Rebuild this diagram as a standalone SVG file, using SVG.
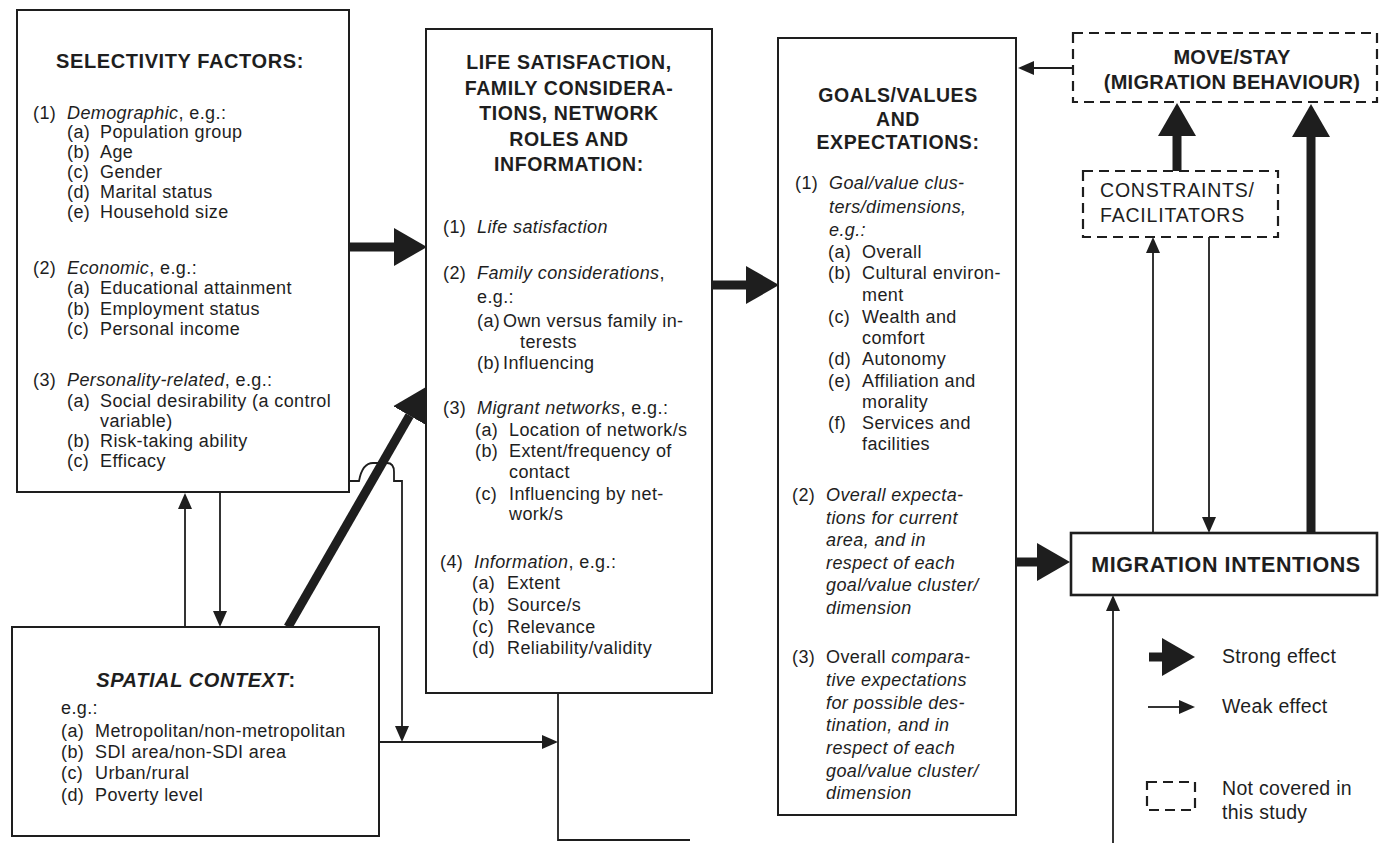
<svg xmlns="http://www.w3.org/2000/svg" width="1382" height="843" viewBox="0 0 1382 843">
<style>
text{font-family:"Liberation Sans",Arial,sans-serif;fill:#1e1e1e}
.t{font-size:18px;letter-spacing:0.4px}
.h{font-size:19.5px;font-weight:bold;letter-spacing:0.6px}
.i{font-style:italic}
.box{fill:#fff;stroke:#1e1e1e;stroke-width:2}
.dash{fill:#fff;stroke:#1e1e1e;stroke-width:2.2;stroke-dasharray:10 6}
.thin{stroke:#1e1e1e;stroke-width:1.8;fill:none}
.thick{stroke:#1e1e1e;stroke-width:9;fill:none}
</style>
<defs>
<marker id="big" markerUnits="userSpaceOnUse" markerWidth="34" markerHeight="38" refX="0" refY="19" orient="auto"><path d="M0,0 L33,19 L0,38 z" fill="#1e1e1e"/></marker>
<marker id="sm" markerUnits="userSpaceOnUse" markerWidth="17" markerHeight="14" refX="0" refY="7" orient="auto"><path d="M0,0 L16,7 L0,14 z" fill="#1e1e1e"/></marker>
</defs>
<rect width="1382" height="843" fill="#fff"/>

<g id="connectors">
<line class="thick" x1="349" y1="247" x2="394" y2="247" marker-end="url(#big)"/>
<line class="thick" x1="712" y1="285" x2="746" y2="285" marker-end="url(#big)"/>
<line class="thick" x1="1016" y1="562" x2="1037" y2="562" marker-end="url(#big)"/>
<line class="thick" x1="288" y1="627" x2="409.6" y2="415.6" marker-end="url(#big)"/>
<line class="thick" x1="1177" y1="171" x2="1177" y2="136" marker-end="url(#big)"/>
<line class="thick" x1="1311" y1="533" x2="1311" y2="137" marker-end="url(#big)"/>
<line class="thin" x1="1073" y1="68" x2="1034" y2="68" marker-end="url(#sm)"/>
<line class="thin" x1="185" y1="627" x2="185" y2="509" marker-end="url(#sm)"/>
<line class="thin" x1="220" y1="493" x2="220" y2="611" marker-end="url(#sm)"/>
<path class="thin" d="M349,481 H359 C361,470 365,463 373,463 H387 C392,463 394,466 394,472 V481 H402 V726" marker-end="url(#sm)"/>
<line class="thin" x1="380" y1="742" x2="542" y2="742" marker-end="url(#sm)"/>
<path class="thin" d="M558,693 V840 H690"/>
<line class="thin" x1="1153" y1="533" x2="1153" y2="253" marker-end="url(#sm)"/>
<line class="thin" x1="1209" y1="237" x2="1209" y2="517" marker-end="url(#sm)"/>
<line class="thin" x1="1113" y1="843" x2="1113" y2="611" marker-end="url(#sm)"/>
</g>

<g id="selectivity">
<rect class="box" x="17" y="10" width="332" height="482"/>
<text class="h" x="180" y="68" text-anchor="middle" style="font-size:20px">SELECTIVITY FACTORS:</text>
<text class="t" x="33" y="119">(1)</text><text class="t" x="67" y="119"><tspan class="i">Demographic</tspan>, e.g.:</text>
<text class="t" x="67" y="138">(a)</text><text class="t" x="100" y="138">Population group</text>
<text class="t" x="67" y="158">(b)</text><text class="t" x="100" y="158">Age</text>
<text class="t" x="67" y="178">(c)</text><text class="t" x="100" y="178">Gender</text>
<text class="t" x="67" y="198">(d)</text><text class="t" x="100" y="198">Marital status</text>
<text class="t" x="67" y="218">(e)</text><text class="t" x="100" y="218">Household size</text>
<text class="t" x="33" y="274">(2)</text><text class="t" x="67" y="274"><tspan class="i">Economic</tspan>, e.g.:</text>
<text class="t" x="67" y="294">(a)</text><text class="t" x="100" y="294">Educational attainment</text>
<text class="t" x="67" y="315">(b)</text><text class="t" x="100" y="315">Employment status</text>
<text class="t" x="67" y="335">(c)</text><text class="t" x="100" y="335">Personal income</text>
<text class="t" x="33" y="386">(3)</text><text class="t" x="67" y="386"><tspan class="i">Personality-related</tspan>, e.g.:</text>
<text class="t" x="67" y="407">(a)</text><text class="t" x="100" y="407">Social desirability (a control</text>
<text class="t" x="100" y="427">variable)</text>
<text class="t" x="67" y="447">(b)</text><text class="t" x="100" y="447">Risk-taking ability</text>
<text class="t" x="67" y="467">(c)</text><text class="t" x="100" y="467">Efficacy</text>
</g>

<g id="spatial">
<rect class="box" x="12" y="627" width="367" height="209"/>
<text class="h" x="196" y="687" text-anchor="middle" style="font-size:20px"><tspan class="i">SPATIAL CONTEXT</tspan>:</text>
<text class="t" x="61" y="714">e.g.:</text>
<text class="t" x="61" y="737">(a)</text><text class="t" x="95" y="737">Metropolitan/non-metropolitan</text>
<text class="t" x="61" y="758">(b)</text><text class="t" x="95" y="758">SDI area/non-SDI area</text>
<text class="t" x="61" y="779">(c)</text><text class="t" x="95" y="779">Urban/rural</text>
<text class="t" x="61" y="801">(d)</text><text class="t" x="95" y="801">Poverty level</text>
</g>

<g id="life">
<rect class="box" x="426" y="29" width="286" height="664"/>
<text class="h" x="569" y="69" text-anchor="middle">LIFE SATISFACTION,</text>
<text class="h" x="569" y="94.5" text-anchor="middle">FAMILY CONSIDERA-</text>
<text class="h" x="569" y="120" text-anchor="middle">TIONS, NETWORK</text>
<text class="h" x="569" y="145.5" text-anchor="middle">ROLES AND</text>
<text class="h" x="569" y="171" text-anchor="middle">INFORMATION:</text>
<text class="t" x="443" y="233">(1)</text><text class="t i" x="477" y="233">Life satisfaction</text>
<text class="t" x="443" y="279">(2)</text><text class="t" x="477" y="279"><tspan class="i">Family considerations</tspan>,</text>
<text class="t" x="477" y="303">e.g.:</text>
<text class="t" x="477" y="327">(a)</text><text class="t" x="503" y="327">Own versus family in-</text>
<text class="t" x="520" y="348">terests</text>
<text class="t" x="477" y="369">(b)</text><text class="t" x="503" y="369">Influencing</text>
<text class="t" x="443" y="414">(3)</text><text class="t" x="477" y="414"><tspan class="i">Migrant networks</tspan>, e.g.:</text>
<text class="t" x="475" y="436">(a)</text><text class="t" x="509" y="436">Location of network/s</text>
<text class="t" x="475" y="457">(b)</text><text class="t" x="509" y="457">Extent/frequency of</text>
<text class="t" x="509" y="478">contact</text>
<text class="t" x="475" y="500">(c)</text><text class="t" x="509" y="500">Influencing by net-</text>
<text class="t" x="509" y="520">work/s</text>
<text class="t" x="440" y="568">(4)</text><text class="t" x="474" y="568"><tspan class="i">Information</tspan>, e.g.:</text>
<text class="t" x="472" y="589">(a)</text><text class="t" x="507" y="589">Extent</text>
<text class="t" x="472" y="611">(b)</text><text class="t" x="507" y="611">Source/s</text>
<text class="t" x="472" y="633">(c)</text><text class="t" x="507" y="633">Relevance</text>
<text class="t" x="472" y="654">(d)</text><text class="t" x="507" y="654">Reliability/validity</text>
</g>

<g id="goals">
<rect class="box" x="778" y="38" width="238" height="777"/>
<text class="h" x="898" y="102" text-anchor="middle">GOALS/VALUES</text>
<text class="h" x="898" y="125.5" text-anchor="middle">AND</text>
<text class="h" x="898" y="149" text-anchor="middle">EXPECTATIONS:</text>
<text class="t" x="795" y="189">(1)</text><text class="t i" x="829" y="189">Goal/value clus-</text>
<text class="t i" x="829" y="213">ters/dimensions,</text>
<text class="t i" x="829" y="236">e.g.:</text>
<text class="t" x="828" y="258">(a)</text><text class="t" x="862" y="258">Overall</text>
<text class="t" x="828" y="279">(b)</text><text class="t" x="862" y="279">Cultural environ-</text>
<text class="t" x="862" y="301">ment</text>
<text class="t" x="828" y="323">(c)</text><text class="t" x="862" y="323">Wealth and</text>
<text class="t" x="862" y="344">comfort</text>
<text class="t" x="828" y="365">(d)</text><text class="t" x="862" y="365">Autonomy</text>
<text class="t" x="828" y="387">(e)</text><text class="t" x="862" y="387">Affiliation and</text>
<text class="t" x="862" y="408">morality</text>
<text class="t" x="828" y="429">(f)</text><text class="t" x="862" y="429">Services and</text>
<text class="t" x="862" y="450">facilities</text>
<text class="t" x="792" y="501">(2)</text><text class="t i" x="826" y="501">Overall expecta-</text>
<text class="t i" x="826" y="523.5">tions for current</text>
<text class="t i" x="826" y="546">area, and in</text>
<text class="t i" x="826" y="568.5">respect of each</text>
<text class="t i" x="826" y="591">goal/value cluster/</text>
<text class="t i" x="826" y="613.5">dimension</text>
<text class="t" x="792" y="663">(3)</text><text class="t" x="826" y="663">Overall <tspan class="i">compara-</tspan></text>
<text class="t i" x="826" y="686">tive expectations</text>
<text class="t i" x="826" y="708.5">for possible des-</text>
<text class="t i" x="826" y="731">tination, and in</text>
<text class="t i" x="826" y="754">respect of each</text>
<text class="t i" x="826" y="776.5">goal/value cluster/</text>
<text class="t i" x="826" y="799">dimension</text>
</g>

<g id="movestay">
<rect class="dash" x="1073" y="33" width="304" height="69"/>
<text class="h" x="1232" y="64" text-anchor="middle" style="font-size:20px;letter-spacing:0.3px">MOVE/STAY</text>
<text class="h" x="1232" y="89" text-anchor="middle" style="font-size:20px;letter-spacing:0.3px">(MIGRATION BEHAVIOUR)</text>
</g>

<g id="constraints">
<rect class="dash" x="1083" y="171" width="195" height="66"/>
<text x="1100" y="197" style="font-size:19.5px;letter-spacing:0.8px">CONSTRAINTS/</text>
<text x="1100" y="222" style="font-size:19.5px;letter-spacing:0.8px">FACILITATORS</text>
</g>

<g id="intentions">
<rect class="box" x="1071" y="533" width="306" height="62" style="stroke-width:2.6"/>
<text class="h" x="1226" y="572" text-anchor="middle" style="font-size:21.5px">MIGRATION INTENTIONS</text>
</g>

<g id="legend">
<line class="thick" x1="1149" y1="657" x2="1162" y2="657" marker-end="url(#big)"/>
<text x="1222" y="663" style="font-size:19.5px;letter-spacing:0.3px">Strong effect</text>
<line class="thin" x1="1148" y1="707" x2="1179" y2="707" marker-end="url(#sm)"/>
<text x="1222" y="713" style="font-size:19.5px;letter-spacing:0.3px">Weak effect</text>
<rect class="dash" x="1147" y="782" width="48" height="28"/>
<text x="1222" y="795" style="font-size:19.5px;letter-spacing:0.3px">Not covered in</text>
<text x="1222" y="819" style="font-size:19.5px;letter-spacing:0.3px">this study</text>
</g>
</svg>
